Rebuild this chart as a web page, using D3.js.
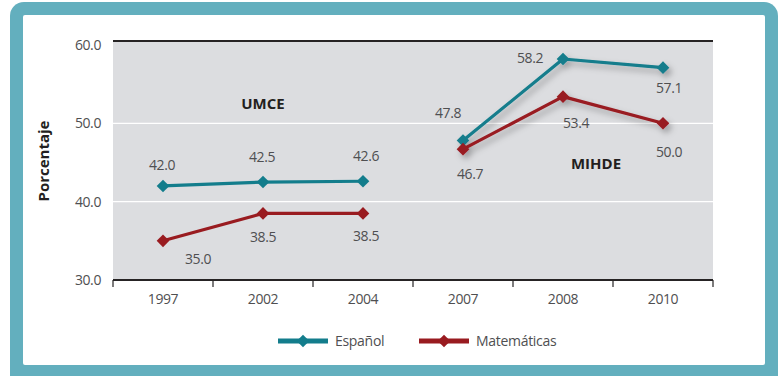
<!DOCTYPE html>
<html><head><meta charset="utf-8">
<script src="https://cdn.jsdelivr.net/npm/d3@7"></script>
<style>
  body { margin: 0; background: #fff; }
  svg { display: block; }
  text { font-family: "Open Sans", "DejaVu Sans", sans-serif; }
</style>
</head><body>
<svg id="chart" width="779" height="376"></svg>
<script>
// Years on the horizontal axis and the programme each survey belongs to
const years = ["1997", "2002", "2004", "2007", "2008", "2010"];
const programs = ["UMCE", "UMCE", "UMCE", "MIHDE", "MIHDE", "MIHDE"];

// Percentages per subject
const espanol = [42.0, 42.5, 42.6, 47.8, 58.2, 57.1];
const matematicas = [35.0, 38.5, 38.5, 46.7, 53.4, 50.0];

const seriesNames = ["Español", "Matemáticas"];
const yTicks = [30, 40, 50, 60];
const yTitle = "Porcentaje";

const colors = { "Español": "#137d8c", "Matemáticas": "#991b20" };
const textGray = "#4f4f51";

// Value-label offsets (dx, dy) relative to each marker
const labelOffsets = {
  "Español": [[-1, -21], [-1, -25], [3, -25], [-15, -28], [-33, -1], [6, 20]],
  "Matemáticas": [[35, 18], [0, 24], [3, 23], [7, 25], [13, 26], [6, 29]]
};

const svg = d3.select("#chart");

// Frame
svg.append("rect").attr("x", 10).attr("y", 2).attr("width", 768).attr("height", 392)
  .attr("rx", 14).attr("fill", "#63afbe");
svg.append("rect").attr("x", 23).attr("y", 15).attr("width", 742).attr("height", 350)
  .attr("rx", 2).attr("fill", "#fff");

const defs = svg.append("defs");
defs.append("filter").attr("id", "shadow")
  .attr("x", "-20%").attr("y", "-30%").attr("width", "140%").attr("height", "160%")
  .append("feDropShadow")
  .attr("dx", 3).attr("dy", 4).attr("stdDeviation", 3)
  .attr("flood-color", "#000").attr("flood-opacity", 0.3);

const plot = { left: 113, right: 713, top: 41, bottom: 280 };

const x = d3.scaleBand().domain(years).range([plot.left, plot.right]).padding(0);
const y = d3.scaleLinear().domain([30, 60.5]).range([plot.bottom, plot.top]);

// Plot background
svg.append("rect")
  .attr("x", plot.left).attr("y", plot.top)
  .attr("width", plot.right - plot.left).attr("height", plot.bottom - plot.top)
  .attr("fill", "#dcdde0");

// Gridlines
svg.append("g").selectAll("line")
  .data(yTicks.filter(t => t > 30 && t < 60))
  .join("line")
  .attr("x1", plot.left).attr("x2", plot.right)
  .attr("y1", d => y(d)).attr("y2", d => y(d))
  .attr("stroke", "#fff").attr("stroke-width", 1.2);

// Top rule
svg.append("line")
  .attr("x1", plot.left).attr("x2", plot.right)
  .attr("y1", plot.top).attr("y2", plot.top)
  .attr("stroke", "#262324").attr("stroke-width", 2.2);

// Y axis labels
const yAxis = d3.axisLeft(y).tickValues(yTicks).tickSize(0).tickPadding(12)
  .tickFormat(d3.format(".1f"));
const gy = svg.append("g").attr("transform", `translate(${plot.left},0)`).call(yAxis);
gy.select(".domain").remove();
gy.selectAll("text")
  .attr("fill", textGray).style("font-size", "14px").style("letter-spacing", "-0.4px");

// X axis with ticks on band boundaries
const xAxis = d3.axisBottom(x).tickSize(0).tickPadding(14);
const gx = svg.append("g").attr("transform", `translate(0,${plot.bottom})`).call(xAxis);
gx.select(".domain").remove();
gx.selectAll("text")
  .attr("fill", textGray).style("font-size", "14px").style("letter-spacing", "-0.4px");

const boundaries = years.map(d => x(d)).concat([x.range()[1]]);
svg.append("g").selectAll("line").data(boundaries).join("line")
  .attr("x1", d => d).attr("x2", d => d)
  .attr("y1", plot.bottom).attr("y2", plot.bottom + 7)
  .attr("stroke", "#262324").attr("stroke-width", 1.2);
svg.append("line")
  .attr("x1", plot.left).attr("x2", plot.right)
  .attr("y1", plot.bottom).attr("y2", plot.bottom)
  .attr("stroke", "#262324").attr("stroke-width", 2.2);

// Y title
svg.append("text")
  .attr("transform", `translate(49,161) rotate(-90)`)
  .attr("text-anchor", "middle")
  .attr("fill", "#231f20")
  .style("font-size", "15px").style("font-weight", "bold")
  .text(yTitle);

// Programme labels
const cx = d => x(d) + x.bandwidth() / 2;
svg.append("text").attr("x", cx("2002")).attr("y", y(52.5) + 5)
  .attr("text-anchor", "middle").attr("fill", "#231f20")
  .style("font-size", "15px").style("font-weight", "bold").text("UMCE");
svg.append("text").attr("x", cx("2008") + 33).attr("y", y(44.8) + 5)
  .attr("text-anchor", "middle").attr("fill", "#231f20")
  .style("font-size", "15px").style("font-weight", "bold").text("MIHDE");

// Series
const seriesValues = { "Español": espanol, "Matemáticas": matematicas };
const line = d3.line().x(d => cx(d.year)).y(d => y(d.value));

seriesNames.forEach(name => {
  const pts = years.map((yr, i) => ({ year: yr, value: seriesValues[name][i], program: programs[i], i }));
  const groups = d3.groups(pts, d => d.program);
  groups.forEach(([prog, gpts]) => {
    const g = svg.append("g");
    if (prog === "MIHDE") g.attr("filter", "url(#shadow)");
    g.append("path").datum(gpts)
      .attr("d", line).attr("fill", "none")
      .attr("stroke", colors[name]).attr("stroke-width", 3.2)
      .attr("stroke-linejoin", "round");
    g.selectAll("path.m").data(gpts).join("path").attr("class", "m")
      .attr("d", d3.symbol().type(d3.symbolSquare).size(80))
      .attr("transform", d => `translate(${cx(d.year)},${y(d.value)}) rotate(45)`)
      .attr("fill", colors[name]);
  });
  svg.append("g").selectAll("text").data(pts).join("text")
    .attr("x", d => cx(d.year) + labelOffsets[name][d.i][0])
    .attr("y", d => y(d.value) + labelOffsets[name][d.i][1] + 5)
    .attr("text-anchor", "middle").attr("fill", textGray)
    .style("font-size", "14px").style("letter-spacing", "-0.4px")
    .text(d => d.value.toFixed(1));
});

// Legend
const legend = svg.append("g");
const legendItems = [
  { name: "Español", x0: 278 },
  { name: "Matemáticas", x0: 419 }
];
legendItems.forEach(it => {
  const ly = 341;
  legend.append("line").attr("x1", it.x0).attr("x2", it.x0 + 50)
    .attr("y1", ly).attr("y2", ly)
    .attr("stroke", colors[it.name]).attr("stroke-width", 5);
  legend.append("path")
    .attr("d", d3.symbol().type(d3.symbolSquare).size(80))
    .attr("transform", `translate(${it.x0 + 25},${ly}) rotate(45)`)
    .attr("fill", colors[it.name]);
  legend.append("text").attr("x", it.x0 + 57).attr("y", ly + 5)
    .attr("fill", textGray).style("font-size", "14px").style("letter-spacing", "-0.3px")
    .text(it.name);
});
</script>
</body></html>
